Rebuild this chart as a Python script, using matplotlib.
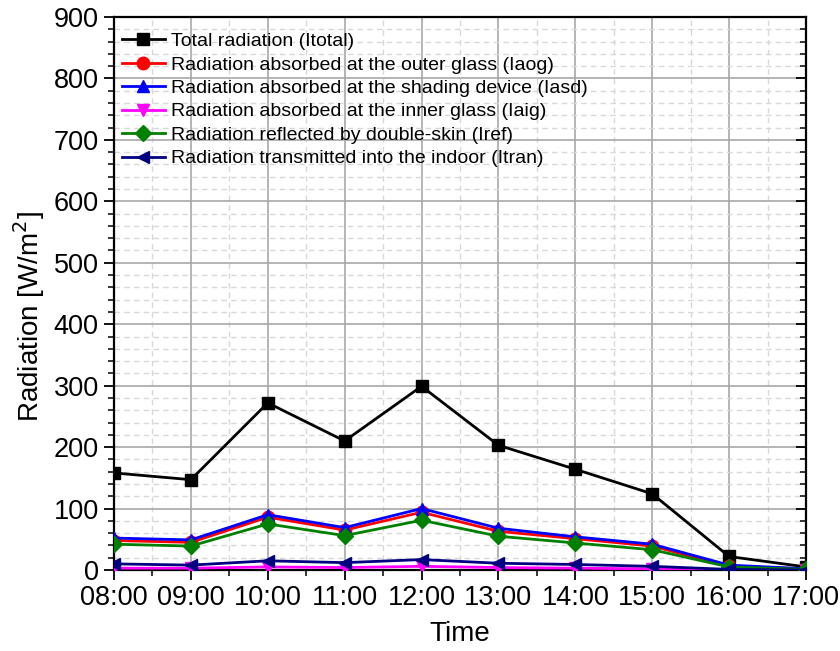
import matplotlib
matplotlib.use("Agg")
import matplotlib.pyplot as plt
from matplotlib.ticker import MultipleLocator
from matplotlib.lines import TICKLEFT

plt.rcParams['font.family'] = ['Liberation Sans', 'DejaVu Sans']

times = ["08:00", "09:00", "10:00", "11:00", "12:00", "13:00", "14:00", "15:00", "16:00", "17:00"]
itotal = [158, 147, 272, 210, 299, 203, 164, 124, 22, 5]
iaog = [48, 45, 86, 65, 94, 63, 51, 39, 6, 2]
iasd = [52, 49, 90, 69, 100, 68, 54, 42, 8, 2]
iaig = [3, 3, 5, 4, 6, 4, 3, 2, 0, 0]
iref = [42, 39, 75, 56, 81, 55, 44, 33, 5, 1]
itran = [10, 8, 15, 12, 17, 11, 9, 6, 1, 0]

series = [
    ("Total radiation (Itotal)", itotal, "black", "s"),
    ("Radiation absorbed at the outer glass (Iaog)", iaog, "red", "o"),
    ("Radiation absorbed at the shading device (Iasd)", iasd, "blue", "^"),
    ("Radiation absorbed at the inner glass (Iaig)", iaig, "magenta", "v"),
    ("Radiation reflected by double-skin (Iref)", iref, "green", "D"),
    ("Radiation transmitted into the indoor (Itran)", itran, "navy", "<"),
]

fig = plt.figure(figsize=(8.4, 6.51), dpi=100)
ax = fig.add_axes([0.1357, 0.1244, 0.8238, 0.8495])

x = list(range(len(times)))
for label, vals, color, marker in series:
    ms = 8 if marker == "D" else 9
    ax.plot(x, vals, color=color, marker=marker, markersize=ms, linewidth=2,
            label=label, zorder=3)

ax.set_xlim(0, len(times) - 1)
ax.set_ylim(0, 900)
ax.set_xticks(x)
ax.set_xticklabels(times)
ax.xaxis.set_minor_locator(MultipleLocator(0.5))
ax.yaxis.set_major_locator(MultipleLocator(100))
ax.yaxis.set_minor_locator(MultipleLocator(20))

ax.grid(which="major", color="#a8a8a8", linewidth=1.2, linestyle="-", zorder=0)
ax.grid(which="minor", color="#d8d8d8", linewidth=1.0, linestyle=(0, (4, 3)), zorder=0)
ax.set_axisbelow(True)

ax.tick_params(axis="both", which="major", direction="out", length=7, width=1.3,
               labelsize=19.5, pad=4)
ax.tick_params(axis="both", which="minor", direction="out", length=4, width=1.1)
ax.tick_params(axis="y", which="both", right=True)

# right-side ticks pointing inward
for t in ax.yaxis.get_major_ticks() + ax.yaxis.get_minor_ticks():
    t.tick2line.set_marker(TICKLEFT)

for sp in ax.spines.values():
    sp.set_linewidth(1.6)

ax.set_xlabel("Time", fontsize=20, labelpad=7)
ax.set_ylabel("Radiation [W/m$^2$]", fontsize=20)
ax.yaxis.set_label_coords(-0.097, 0.459)

leg = ax.legend(loc="upper left", fontsize=14, frameon=False, handlelength=2.2,
                handletextpad=0.35, labelspacing=0.3, borderaxespad=0.0,
                bbox_to_anchor=(0.0, 0.986))

fig.savefig("out.png", dpi=100)
